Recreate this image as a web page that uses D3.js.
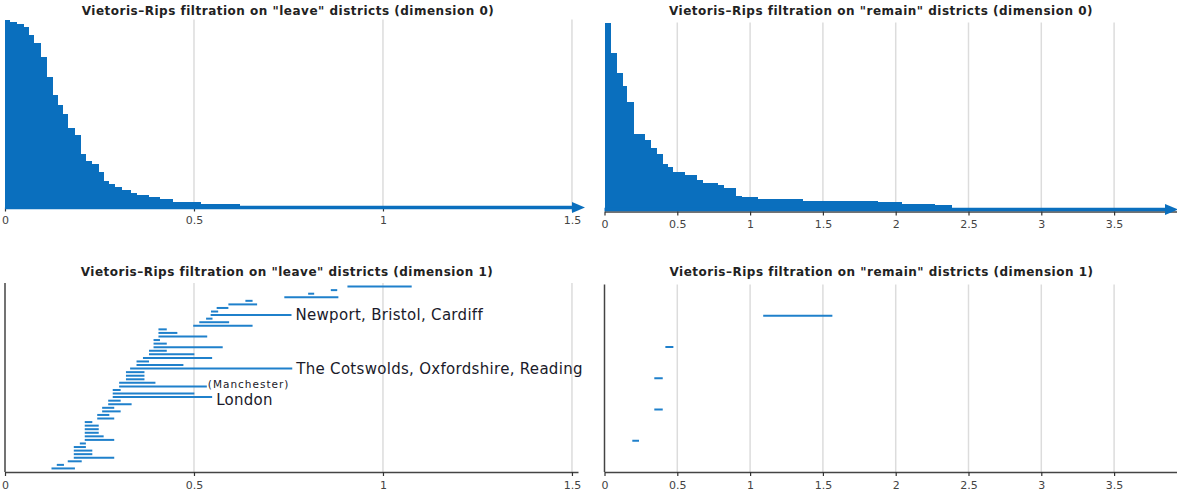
<!DOCTYPE html>
<html>
<head>
<meta charset="utf-8">
<script src="https://cdn.jsdelivr.net/npm/d3@7"></script>
<style>
  body { margin: 0; background: #fff; }
  svg { display: block; font-family: "DejaVu Sans", sans-serif; }
  .title { font-weight: bold; font-size: 12px; fill: #222; text-anchor: middle; letter-spacing: 0.5px; }
  .tick text { font-size: 11px; fill: #444; }
  .label { fill: #1a1a2a; }
</style>
</head>
<body>
<svg id="vis" width="1177" height="495"></svg>
<script>
// dimension 0: death times (birth is always 0), with how many bars die at each
const leaveDeaths0 = [0.013, 0.033, 0.050, 0.064, 0.078, 0.094, 0.110, 0.126, 0.140, 0.154, 0.168, 0.186, 0.202, 0.214,
  0.230, 0.248, 0.262, 0.276, 0.290, 0.310, 0.334, 0.350, 0.380, 0.410, 0.444, 0.518, 0.622, Infinity];
const leaveCounts0 = [3, 3, 4, 12, 12, 20, 28, 25, 15, 13, 20, 10, 27, 9, 5, 11, 13, 4, 4, 5, 4, 3, 3, 2, 4, 4, 2, 1];

const remainDeaths0 = [0.043, 0.084, 0.125, 0.157, 0.203, 0.278, 0.317, 0.358, 0.400, 0.434, 0.473, 0.553, 0.633,
  0.674, 0.782, 0.821, 0.903, 0.942, 1.056, 1.365, 1.880, 2.04, 2.27, 2.39, Infinity];
const remainCounts0 = [19, 13, 8, 10, 20, 4, 5, 4, 6, 2, 3, 2, 3, 2, 1, 2, 5, 1, 1, 1, 1, 1, 1, 1, 1];

// dimension 1: bars listed from the bottom of the plot up
const leaveBirths1 = [0.123, 0.137, 0.166, 0.182, 0.182, 0.182, 0.182, 0.198, 0.211, 0.211, 0.211, 0.211, 0.211,
  0.211, 0.244, 0.244, 0.257, 0.257, 0.273, 0.273, 0.285, 0.285, 0.285, 0.302, 0.302, 0.320, 0.320, 0.320, 0.331,
  0.348, 0.348, 0.365, 0.381, 0.381, 0.393, 0.393, 0.393, 0.406, 0.406, 0.406, 0.498, 0.514, 0.532, 0.544, 0.545,
  0.560, 0.591, 0.636, 0.739, 0.802, 0.862, 0.906];
const leaveDeaths1 = [0.185, 0.156, 0.203, 0.289, 0.231, 0.231, 0.214, 0.214, 0.289, 0.261, 0.248, 0.248, 0.248,
  0.231, 0.289, 0.276, 0.306, 0.289, 0.335, 0.306, 0.548, 0.501, 0.306, 0.534, 0.398, 0.369, 0.369, 0.369, 0.760,
  0.472, 0.381, 0.548, 0.501, 0.428, 0.576, 0.428, 0.410, 0.535, 0.456, 0.428, 0.655, 0.593, 0.549, 0.758, 0.564,
  0.591, 0.667, 0.655, 0.882, 0.818, 0.879, 1.076];
const leaveLabelBars = [43, 28, 23, 20];
const leaveLabelTexts = ["Newport, Bristol, Cardiff", "The Cotswolds, Oxfordshire, Reading", "(Manchester)", "London"];
const leaveLabelSmall = [false, false, true, false];

const remainBirths1 = [0.191, 0.342, 0.342, 0.418, 1.09];
const remainDeaths1 = [0.237, 0.400, 0.400, 0.473, 1.565];

const leftTicks = [0, 0.5, 1, 1.5];
const rightTicks = [0, 0.5, 1, 1.5, 2, 2.5, 3, 3.5];

const titles = [
  'Vietoris\u2013Rips filtration on "leave" districts (dimension 0)',
  'Vietoris\u2013Rips filtration on "remain" districts (dimension 0)',
  'Vietoris\u2013Rips filtration on "leave" districts (dimension 1)',
  'Vietoris\u2013Rips filtration on "remain" districts (dimension 1)'
];

const blue = "#0a6fbe";
const barBlue = "#1f80cb";

const svg = d3.select("#vis");

const panels = [
  {title: titles[0], x0: 5, x1: 578, maxX: 1.516, top: 19.5, bottom: 206.5, axisY: 207.5, titleX: 288, titleY: 14.5, ticks: leftTicks, tip: 585},
  {title: titles[1], x0: 604.5, x1: 1177, maxX: 3.932, top: 22.5, bottom: 208.5, axisY: 211.5, titleX: 881, titleY: 14.5, ticks: rightTicks, tip: 1178},
  {title: titles[2], x0: 5, x1: 578, maxX: 1.516, top: 283, bottom: 472, axisY: 472, titleX: 287, titleY: 276, ticks: leftTicks, yAxis: true},
  {title: titles[3], x0: 604.5, x1: 1177, maxX: 3.932, top: 284.5, bottom: 472, axisY: 472, titleX: 881.5, titleY: 276, ticks: rightTicks, yAxis: true}
];

function expand(deaths, counts) {
  const out = [];
  deaths.forEach((d, i) => { for (let k = 0; k < counts[i]; k++) out.push(d); });
  return out.sort((a, b) => b - a);
}

function frame(p) {
  const g = svg.append("g");
  const x = d3.scaleLinear().domain([0, p.maxX]).range([p.x0, p.x1]);

  g.append("g").selectAll("line")
    .data(p.ticks.filter(t => t > 0))
    .join("line")
    .attr("x1", d => x(d)).attr("x2", d => x(d))
    .attr("y1", p.top).attr("y2", p.axisY)
    .attr("stroke", "#dcdcdc").attr("stroke-width", 1.5);

  g.append("text").attr("class", "title")
    .attr("x", p.titleX).attr("y", p.titleY)
    .text(p.title);

  const marks = g.append("g");

  g.append("g")
    .attr("transform", `translate(0,${p.axisY})`)
    .call(d3.axisBottom(x).tickValues(p.ticks).tickSize(4).tickSizeOuter(0).tickPadding(5).tickFormat(d3.format("~g")))
    .call(a => a.select(".domain").attr("stroke", "#444").attr("stroke-width", 1.5))
    .call(a => a.selectAll(".tick line").attr("stroke", "#333").attr("stroke-width", 1.2))
    .call(a => a.selectAll(".tick text").attr("font-family", "DejaVu Sans"));

  if (p.yAxis) {
    g.append("line")
      .attr("x1", x(0)).attr("x2", x(0))
      .attr("y1", p.top).attr("y2", p.axisY)
      .attr("stroke", "#444").attr("stroke-width", 1.5);
  }
  return {g, x, marks};
}

function dim0(p, deaths, counts) {
  const {g, x, marks} = frame(p);
  const bars = expand(deaths, counts);
  const y = d3.scaleBand().domain(d3.range(bars.length)).range([p.bottom, p.top]);
  // each bar is filled down to the baseline so neighbouring bars never leave seams
  marks.attr("shape-rendering", "crispEdges")
    .selectAll("rect")
    .data(bars.map((d, i) => ({d, i})).filter(b => isFinite(b.d)))
    .join("rect")
    .attr("x", x(0))
    .attr("y", b => y(b.i))
    .attr("width", b => x(b.d) - x(0))
    .attr("height", b => p.bottom - y(b.i))
    .attr("fill", blue);

  const infY = p.bottom + 1;
  g.append("line")
    .attr("x1", x(0)).attr("x2", p.tip - 10)
    .attr("y1", infY).attr("y2", infY)
    .attr("stroke", blue).attr("stroke-width", 3.5);
  g.append("path")
    .attr("d", `M${p.tip - 13},${infY - 5.5}L${p.tip},${infY}L${p.tip - 13},${infY + 5.5}Z`)
    .attr("fill", blue);
}

function dim1(p, births, deaths, labelBars, labelTexts, labelSmall) {
  const {g, x, marks} = frame(p);
  const y = d3.scalePoint().domain(d3.range(births.length)).range([p.axisY, p.top]).padding(1);
  marks.selectAll("line")
    .data(births.map((b, i) => ({b, d: deaths[i], i})))
    .join("line")
    .attr("x1", d => x(d.b)).attr("x2", d => x(d.d))
    .attr("y1", d => y(d.i)).attr("y2", d => y(d.i))
    .attr("stroke", barBlue).attr("stroke-width", 2);

  if (labelBars) {
    marks.selectAll("text")
      .data(labelBars.map((b, k) => ({b, text: labelTexts[k], small: labelSmall[k]})))
      .join("text")
      .attr("class", "label")
      .attr("x", d => x(deaths[d.b]) + (d.small ? 1 : 4))
      .attr("y", d => y(d.b) + (d.small ? -2 : 0) + (d.text === "London" ? 2.5 : 0))
      .attr("dy", "0.36em")
      .attr("font-size", d => d.small ? 10.5 : 15)
      .attr("letter-spacing", d => d.small ? 1 : 0.3)
      .text(d => d.text);
  }
}

dim0(panels[0], leaveDeaths0, leaveCounts0);
dim0(panels[1], remainDeaths0, remainCounts0);
dim1(panels[2], leaveBirths1, leaveDeaths1, leaveLabelBars, leaveLabelTexts, leaveLabelSmall);
dim1(panels[3], remainBirths1, remainDeaths1);
</script>
</body>
</html>
